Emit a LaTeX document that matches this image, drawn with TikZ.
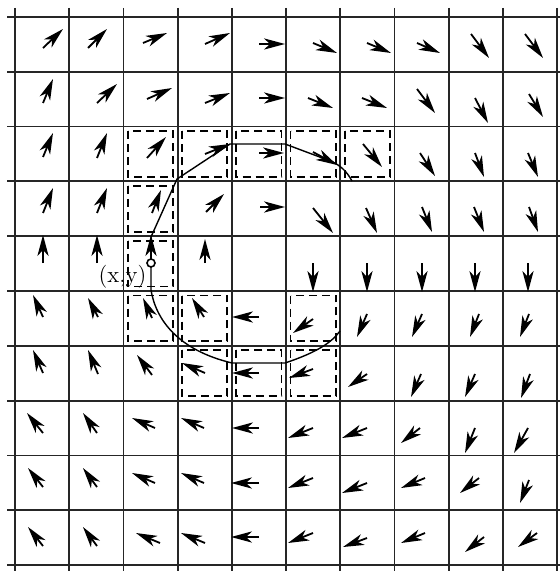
\documentclass[tikz,border=0pt]{standalone}
\usetikzlibrary{arrows.meta}
\begin{document}
\begin{tikzpicture}[x=0.5pt,y=-0.5pt,
  gridline/.style={line width=0.9pt,black!85},
  vec/.style={line width=0.9pt,-{Stealth[length=10.5pt,width=5.6pt,inset=3pt]}},
  cellbox/.style={line width=0.95pt,dash pattern=on 4pt off 2.5pt},
  contour/.style={line width=0.7pt,line join=round}]
\useasboundingbox (0,0) rectangle (560,571);
\fill[white] (0,0) rectangle (560,571);
% grid
\foreach \i in {0,...,10}{
  \draw[gridline] ({15+54.2*\i},8) -- ({15+54.2*\i},571);
  \draw[gridline] (7,{17+54.8*\i}) -- (560,{17+54.8*\i});
}
% dashed cell boxes (col,row)
\foreach \c/\r in {3/3,4/3,5/3,6/3,7/3,3/4,3/5,3/6,4/6,6/6,4/7,5/7,6/7}{
  \draw[cellbox] ({15+54.2*(\c-1)+4.5},{17+54.8*(\r-1)+4.5}) rectangle ({15+54.2*\c-4.5},{17+54.8*\r-4.5});
}
% vector field
\foreach \a/\b/\c/\d in {
 43/48/63/29, 88/48/107/29, 143/43/167/33, 205/44/230/33, 259/44/285/44,
 313/43/337/53, 367/43/391/53, 417/43/440/53, 471/34/489/58, 525/34/543/58,
 43/103/53/79, 97/103/117/84, 147/99/172/88, 205/103/230/93, 259/98/285/98,
 308/98/333/108, 362/98/387/108, 417/89/435/113, 475/98/488/123, 529/94/543/117,
 43/157/53/133, 97/158/107/133, 147/158/166/137, 205/154/230/144, 259/153/284/153,
 313/152/337/165, 363/144/382/167, 420/153/435/176, 475/153/484/177, 528/153/538/177,
 43/213/53/188, 97/213/107/188, 152/213/161/190, 206/212/224/194, 260/207/285/207,
 313/208/333/233, 366/208/377/233, 422/207/432/232, 474/207/484/232, 529/207/538/232,
 43/263/43/235, 97/263/97/235, 151/260/151/235, 205/263/205/239,
 313/263/313/292, 367/263/367/292, 422/263/422/292, 475/263/475/292, 528/263/528/292,
 43/317/33/295, 98/317/88/298, 152/318/143/298, 204/317/192/298, 259/317/232/317,
 313/319/293/333, 367/314/357/337, 422/314/412/337, 479/314/470/337, 529/314/520/337,
 43/373/33/350, 98/374/88/350, 152/375/137/355, 205/373/182/363, 259/373/232/373,
 313/369/289/378, 367/374/348/387, 421/374/411/397, 475/374/465/397, 530/374/521/398,
 43/433/27/413, 97/433/83/413, 155/428/132/418, 204/428/181/418, 259/428/232/428,
 313/428/288/438, 367/428/342/438, 420/428/401/443, 475/428/465/453, 528/428/514/453,
 43/487/28/468, 97/487/83/468, 155/483/132/473, 204/483/181/473, 259/483/231/483,
 313/478/288/488, 367/483/342/493, 425/478/401/488, 479/478/460/493, 529/480/520/503,
 43/546/28/527, 97/546/83/527, 160/543/136/533, 205/543/181/533, 259/537/231/537,
 313/533/288/543, 367/538/343/547, 425/533/401/543, 484/537/465/552, 537/533/518/547}{
  \draw[vec] (\a,\b) -- (\c,\d);
}
% contour
\draw[contour] (352,181) .. controls (346,170) and (340,166) .. (333,162)
  -- (285,144) -- (230,144) -- (177,179) -- (151,237) -- (151,290)
  .. controls (156,320) and (178,350) .. (232,363)
  -- (285,363) .. controls (318,352) and (332,342) .. (340,331);
\draw[line width=0.8pt,fill=white] (151,263) circle (4);
\node[font=\fontsize{11.5}{13}\selectfont,inner sep=0pt] (lbl) at (122.5,276.5) {(x,y)};
\end{tikzpicture}
\end{document}
